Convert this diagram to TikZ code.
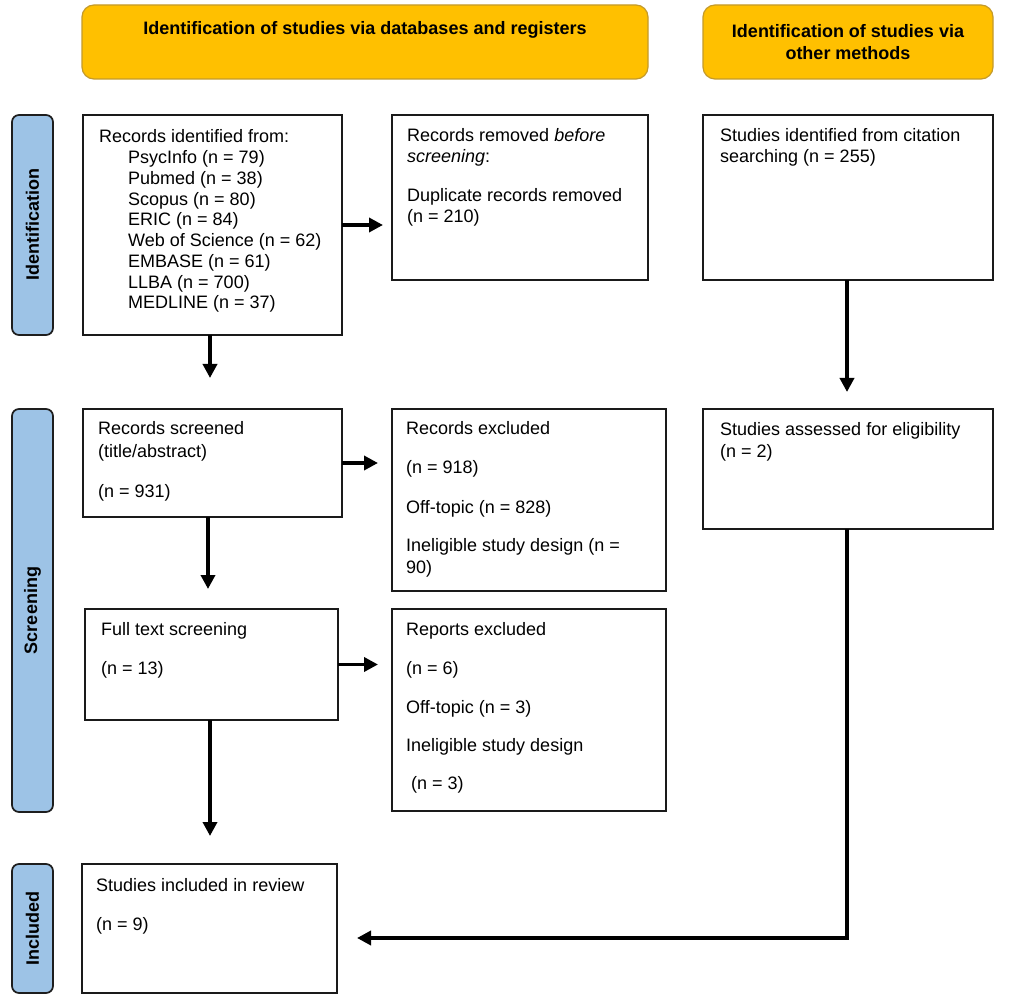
\documentclass[tikz,border=0pt]{standalone}
\usepackage{fontspec}
\setmainfont{Liberation Sans}
\usetikzlibrary{arrows.meta}
\definecolor{hdr}{HTML}{FFC000}
\definecolor{hdrline}{HTML}{C49A2A}
\definecolor{side}{HTML}{9DC3E6}
\definecolor{sideline}{HTML}{1E1E1E}
\definecolor{boxline}{HTML}{1A1A1A}
\begin{document}
\begin{tikzpicture}[x=1pt,y=-1pt,
  box/.style 2 args={draw=boxline, line width=1.7pt, rectangle, inner sep=0pt, outer sep=0pt,
    anchor=north west, minimum width=#1pt, minimum height=#2pt},
  hdrbox/.style 2 args={draw=hdrline, fill=hdr, line width=1.2pt, rectangle, rounded corners=12pt,
    inner sep=0pt, outer sep=0pt, anchor=north west, minimum width=#1pt, minimum height=#2pt},
  sidebox/.style 2 args={draw=sideline, fill=side, line width=1.7pt, rectangle, rounded corners=7pt,
    inner sep=0pt, outer sep=0pt, anchor=north west, minimum width=#1pt, minimum height=#2pt},
  txt/.style={anchor=base west, inner sep=0pt, font=\fontsize{18}{21}\selectfont},
  hdrtxt/.style={anchor=base, inner sep=0pt, font=\fontsize{18}{22}\selectfont\bfseries},
  sidetxt/.style={inner sep=0pt, rotate=90, font=\fontsize{18}{21}\selectfont\bfseries},
  arr/.style={line width=3.6pt, draw=black, -{Triangle[length=14pt,width=14pt]}}
]
\useasboundingbox (0,0) rectangle (1013,1000);
\fill[white] (0,0) rectangle (1013,1000);

% headers
\node[hdrbox={566}{74}] (h1) at (82,5) {};
\node[hdrbox={290}{74}] (h2) at (703,5) {};
\node[hdrtxt] (h1t) at (365,35) {Identification of studies via databases and registers};
\node[hdrtxt] (h2t1) at (848,38) {Identification of studies via};
\node[hdrtxt] (h2t2) at (848,60) {other methods};

% side bars
\node[sidebox={41}{220}] (s1) at (12,115) {};
\node[sidebox={41}{403}] (s2) at (12,409) {};
\node[sidebox={41}{129}] (s3) at (12,864) {};
\node[sidetxt] (s1t) at (s1.center) {Identification};
\node[sidetxt] (s2t) at (s2.center) {Screening};
\node[sidetxt] (s3t) at (s3.center) {Included};

% boxes
\node[box={259}{220}] (ri) at (83,115) {};
\node[box={256}{165}] (rr) at (392,115) {};
\node[box={290}{165}] (cit) at (703,115) {};
\node[box={259}{108}] (rs) at (83,409) {};
\node[box={274}{182}] (rx) at (392,409) {};
\node[box={290}{120}] (sa) at (703,409) {};
\node[box={253}{111}] (ft) at (85,609) {};
\node[box={274}{202}] (rpx) at (392,609) {};
\node[box={255}{129}] (si) at (82,864) {};

% texts: records identified
\node[txt] (ri1) at (99,143) {Records identified from:};
\node[txt] (ri2) at (128,163.75) {PsycInfo (n = 79)};
\node[txt] (ri3) at (128,184.5) {Pubmed (n = 38)};
\node[txt] (ri4) at (128,205.25) {Scopus (n = 80)};
\node[txt] (ri5) at (128,226) {ERIC (n = 84)};
\node[txt] (ri6) at (128,246.75) {Web of Science (n = 62)};
\node[txt] (ri7) at (128,267.5) {EMBASE (n = 61)};
\node[txt] (ri8) at (128,288.25) {LLBA (n = 700)};
\node[txt] (ri9) at (128,309) {MEDLINE (n = 37)};

% records removed
\node[txt] (rr1) at (407,142) {Records removed \textit{before}};
\node[txt] (rr2) at (407,163) {\textit{screening}:};
\node[txt] (rr3) at (407,202) {Duplicate records removed};
\node[txt] (rr4) at (407,223) {(n = 210)};

% citation
\node[txt] (cit1) at (720,142) {Studies identified from citation};
\node[txt] (cit2) at (720,163) {searching (n = 255)};

% records screened
\node[txt] (rs1) at (98,435) {Records screened};
\node[txt] (rs2) at (98,457) {(title/abstract)};
\node[txt] (rs3) at (98,497) {(n = 931)};

% records excluded
\node[txt] (rx1) at (406,435) {Records excluded};
\node[txt] (rx2) at (406,474) {(n = 918)};
\node[txt] (rx3) at (406,513) {Off-topic (n = 828)};
\node[txt] (rx4) at (406,551) {Ineligible study design (n =};
\node[txt] (rx5) at (406,573) {90)};

% studies assessed
\node[txt] (sa1) at (720,436) {Studies assessed for eligibility};
\node[txt] (sa2) at (720,457) {(n = 2)};

% full text
\node[txt] (ft1) at (101,635) {Full text screening};
\node[txt] (ft2) at (101,674) {(n = 13)};

% reports excluded
\node[txt] (rp1) at (406,635) {Reports excluded};
\node[txt] (rp2) at (406,674) {(n = 6)};
\node[txt] (rp3) at (406,713) {Off-topic (n = 3)};
\node[txt] (rp4) at (406,751) {Ineligible study design};
\node[txt] (rp5) at (411,789) {(n = 3)};

% studies included
\node[txt] (si1) at (96,891) {Studies included in review};
\node[txt] (si2) at (96,930) {(n = 9)};

% arrows
\draw[arr, shorten >=9pt] (ri.east) -- (ri.east -| rr.west);
\draw[arr, shorten >=31pt] ([xshift=-2.5pt]ri.south) -- ([xshift=-2.5pt]rs.north);
\draw[arr, shorten >=17pt] ([xshift=-1pt]cit.south) -- ([xshift=-1pt]sa.north);
\draw[arr, shorten >=14pt] (rs.east) -- (rs.east -| rx.west);
\draw[arr, shorten >=20pt] ([xshift=-4.5pt]rs.south) -- ([xshift=-4.5pt]rs.south |- ft.north);
\draw[arr, shorten >=14pt] (ft.east) -- (ft.east -| rpx.west);
\draw[arr, shorten >=28pt] ([xshift=-1.5pt]ft.south) -- ([xshift=-1.5pt]ft.south |- si.north);
\coordinate (bend) at (847,938);
\draw[arr, shorten >=20pt] ([xshift=-1pt]sa.south) |- (si.east |- bend);
\end{tikzpicture}
\end{document}
